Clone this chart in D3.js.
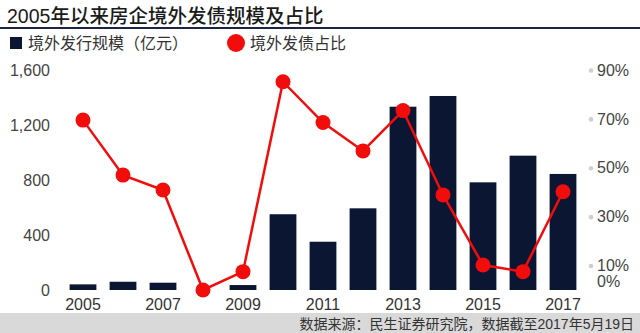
<!DOCTYPE html>
<html>
<head>
<meta charset="utf-8">
<script src="https://cdn.jsdelivr.net/npm/d3@7"></script>
<style>
  body { margin: 0; background: #fff; }
  svg { display: block; font-family: "Liberation Sans", "Noto Sans CJK SC", sans-serif; }
</style>
</head>
<body>
<svg id="chart" width="640" height="333"></svg>
<script>
// issue size (100m yuan) and share of total, by year
var years = ["2005", "2006", "2007", "2008", "2009", "2010", "2011", "2012", "2013", "2014", "2015", "2016", "2017"];
var issueSize = [41, 60, 53, 0, 36, 551, 351, 594, 1333, 1411, 783, 977, 844];
var sharePct = [69.5, 47, 40.9, 0, 7.5, 85.2, 68.5, 56.9, 73.4, 38.9, 10.2, 7.5, 40.2];
var leftTicks = [0, 400, 800, 1200, 1600];
var rightTicks = [0, 10, 30, 50, 70, 90];
var yearLabels = ["2005", "2007", "2009", "2011", "2013", "2015", "2017"];

var navy = "#0b1633";
var red = "#f20d0d";

var svg = d3.select("#chart");

// title and rule
svg.append("text")
  .attr("x", 7).attr("y", 23)
  .style("font-size", "19.5px")
  .style("font-weight", "500")
  .style("fill", "#1a1a1a")
  .text("2005年以来房企境外发债规模及占比");
svg.append("line")
  .attr("x1", 0).attr("x2", 640)
  .attr("y1", 28).attr("y2", 28)
  .style("stroke", "#1b2540")
  .style("stroke-width", 2);

// legend
svg.append("rect")
  .attr("x", 10).attr("y", 37).attr("width", 12).attr("height", 12)
  .style("fill", navy);
svg.append("text")
  .attr("x", 28).attr("y", 49)
  .style("font-size", "16px").style("fill", "#333")
  .text("境外发行规模（亿元）");
svg.append("circle")
  .attr("cx", 236).attr("cy", 43).attr("r", 9)
  .style("fill", red);
svg.append("text")
  .attr("x", 250).attr("y", 49)
  .style("font-size", "16px").style("fill", "#333")
  .text("境外发债占比");

// scales
var x = d3.scaleBand().domain(years).range([63, 583]).paddingInner(0.33).paddingOuter(0.165);
var y = d3.scaleLinear().domain([0, 1600]).range([290, 70]);
var y2 = d3.scaleLinear().domain([0, 90]).range([290, 70]);
var cx = function(d) { return x(d) + x.bandwidth() / 2; };

// left axis
var leftAxis = svg.append("g")
  .attr("transform", "translate(50,0)")
  .call(d3.axisLeft(y).tickValues(leftTicks).tickSize(0).tickPadding(0).tickFormat(d3.format(",")));
leftAxis.select(".domain").remove();
leftAxis.selectAll("text")
  .style("font-size", "16px").style("fill", "#444")
  .style("font-family", "'Liberation Sans', sans-serif");

// right axis with grey dots
var rightAxis = svg.append("g")
  .attr("transform", "translate(597,0)")
  .call(d3.axisRight(y2).tickValues(rightTicks).tickSize(0).tickPadding(0).tickFormat(function(d) { return d + "%"; }));
rightAxis.select(".domain").remove();
rightAxis.selectAll("text")
  .style("font-size", "16px").style("fill", "#444")
  .style("font-family", "'Liberation Sans', sans-serif");
rightAxis.selectAll(".tick").filter(function(d) { return d === 0; })
  .select("text").attr("dy", "-0.25em");
rightAxis.selectAll(".tick").filter(function(d) { return d > 0; })
  .append("circle")
  .attr("cx", -6).attr("cy", 0).attr("r", 2.3)
  .style("fill", "#cfcfcf");

// bars
svg.append("g").selectAll("rect")
  .data(years)
  .enter().append("rect")
  .attr("x", function(d) { return x(d); })
  .attr("width", x.bandwidth())
  .attr("y", function(d, i) { return y(issueSize[i]); })
  .attr("height", function(d, i) { return y(0) - y(issueSize[i]); })
  .style("fill", navy);

// share line
var line = d3.line()
  .x(function(d) { return cx(d); })
  .y(function(d, i) { return y2(sharePct[i]); });
svg.append("path")
  .datum(years)
  .attr("d", line)
  .style("fill", "none")
  .style("stroke", red)
  .style("stroke-width", 2.5);
svg.append("g").selectAll("circle")
  .data(years)
  .enter().append("circle")
  .attr("cx", function(d) { return cx(d); })
  .attr("cy", function(d, i) { return y2(sharePct[i]); })
  .attr("r", 7.5)
  .style("fill", red);

// year labels
var bottomAxis = svg.append("g")
  .attr("transform", "translate(0,296)")
  .call(d3.axisBottom(x).tickValues(yearLabels).tickSize(0).tickPadding(0));
bottomAxis.select(".domain").remove();
bottomAxis.selectAll("text")
  .attr("dy", "0.9em")
  .style("font-size", "16px").style("fill", "#333")
  .style("font-family", "'Liberation Sans', sans-serif");

// source footer
svg.append("rect")
  .attr("x", 0).attr("y", 313).attr("width", 640).attr("height", 20)
  .style("fill", "#d9d9d9");
svg.append("text")
  .attr("x", 634).attr("y", 328.5)
  .attr("text-anchor", "end")
  .style("font-size", "14px").style("fill", "#333")
  .text("数据来源：民生证券研究院，数据截至2017年5月19日");
</script>
</body>
</html>
